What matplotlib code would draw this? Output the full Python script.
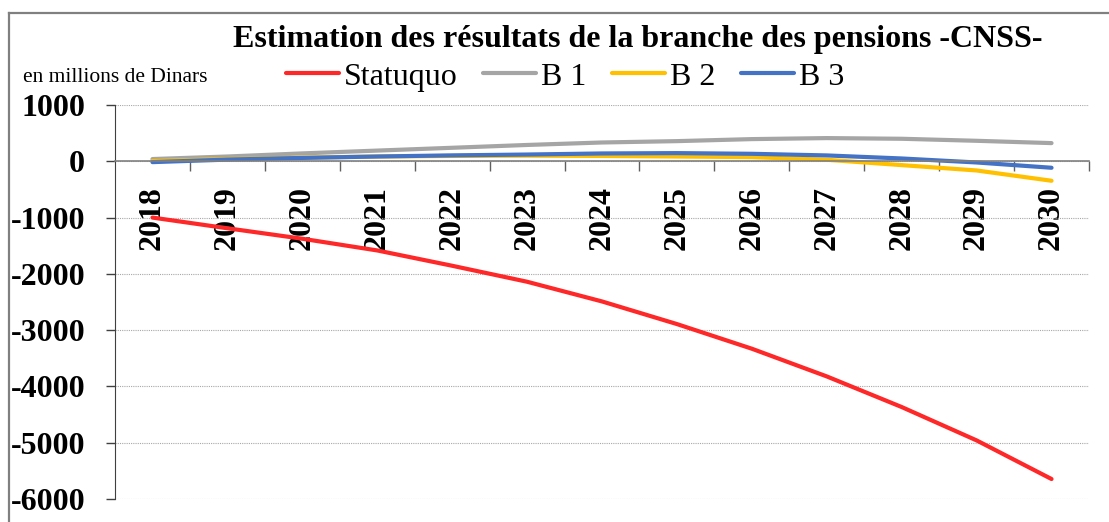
import matplotlib
matplotlib.use('Agg')
import matplotlib.pyplot as plt
from matplotlib.lines import Line2D

plt.rcParams['font.family'] = ['Liberation Serif', 'DejaVu Serif']

years = [2018, 2019, 2020, 2021, 2022, 2023, 2024, 2025, 2026, 2027, 2028, 2029, 2030]
statuquo = [-1000, -1190, -1376, -1584, -1856, -2140, -2490, -2892, -3330, -3822, -4366, -4959, -5645]
b1 = [40, 85, 140, 190, 240, 290, 334, 358, 394, 412, 400, 364, 323]
b2 = [5, 40, 65, 85, 95, 100, 95, 85, 74, 27, -68, -163, -346]
b3 = [-15, 30, 60, 85, 105, 120, 139, 145, 133, 104, 50, -21, -115]

series_names = ['Statuquo', 'B 1', 'B 2', 'B 3']
colors = ['#FF2828', '#A5A5A5', '#FFC000', '#4472C4']
yticks = [1000, 0, -1000, -2000, -3000, -4000, -5000, -6000]

W, H = 1109, 522
fig = plt.figure(figsize=(W / 100, H / 100), dpi=100)
ax = fig.add_axes([115 / W, 1 - 499 / H, (1089 - 115) / W, (499 - 105) / H])

for vals, name, c in zip([statuquo, b1, b2, b3], series_names, colors):
    ax.plot(years, vals, color=c, lw=3, label=name, solid_capstyle='round')

ax.set_xlim(years[0] - 0.5, years[-1] + 0.5)
ax.set_ylim(-6000, 1000)

# grid
ax.set_yticks(yticks)
ax.set_yticklabels([str(v) for v in yticks], fontsize=23, fontweight='bold')
ax.yaxis.grid(True, color='#a8a8a8', lw=0.8, linestyle=(0, (1, 1)))
ax.set_axisbelow(True)
ax.tick_params(axis='y', direction='out', length=6.5, width=1, color='#404040', pad=15)

# x axis at y = 0
ax.spines['bottom'].set_position(('data', 0))
ax.spines['bottom'].set_color('#808080')
ax.spines['bottom'].set_linewidth(1.2)
ax.spines['top'].set_visible(False)
ax.spines['right'].set_visible(False)
ax.spines['left'].set_color('#404040')
ax.set_xticks(years)
ax.set_xticklabels([str(y) for y in years], rotation=90, fontsize=23, fontweight='bold')
ax.set_xticks([y + 0.5 for y in years], minor=True)
ax.tick_params(axis='x', which='major', length=0, pad=18)
ax.tick_params(axis='x', which='minor', direction='out', length=7, width=1, color='#606060')

fig.text(638 / W, 1 - 40 / H, 'Estimation des résultats de la branche des pensions -CNSS-',
         ha='center', va='center', fontsize=23, fontweight='bold')
fig.text(23 / W, 1 - 77 / H, 'en millions de Dinars', ha='left', va='center', fontsize=15.5)

fig.legend(loc='center', bbox_to_anchor=(565 / W, 1 - 77 / H), ncol=4, frameon=False,
           fontsize=23, handlelength=1.66, handletextpad=0.16, columnspacing=0.8,
           borderpad=0, borderaxespad=0)

# chart border
fig.add_artist(Line2D([9 / W, 1], [1 - 13 / H, 1 - 13 / H], color='#808080', lw=1.6,
                      transform=fig.transFigure))
fig.add_artist(Line2D([9 / W, 9 / W], [0, 1 - 13 / H], color='#808080', lw=1.6,
                      transform=fig.transFigure))

fig.savefig('out.png', dpi=100)
